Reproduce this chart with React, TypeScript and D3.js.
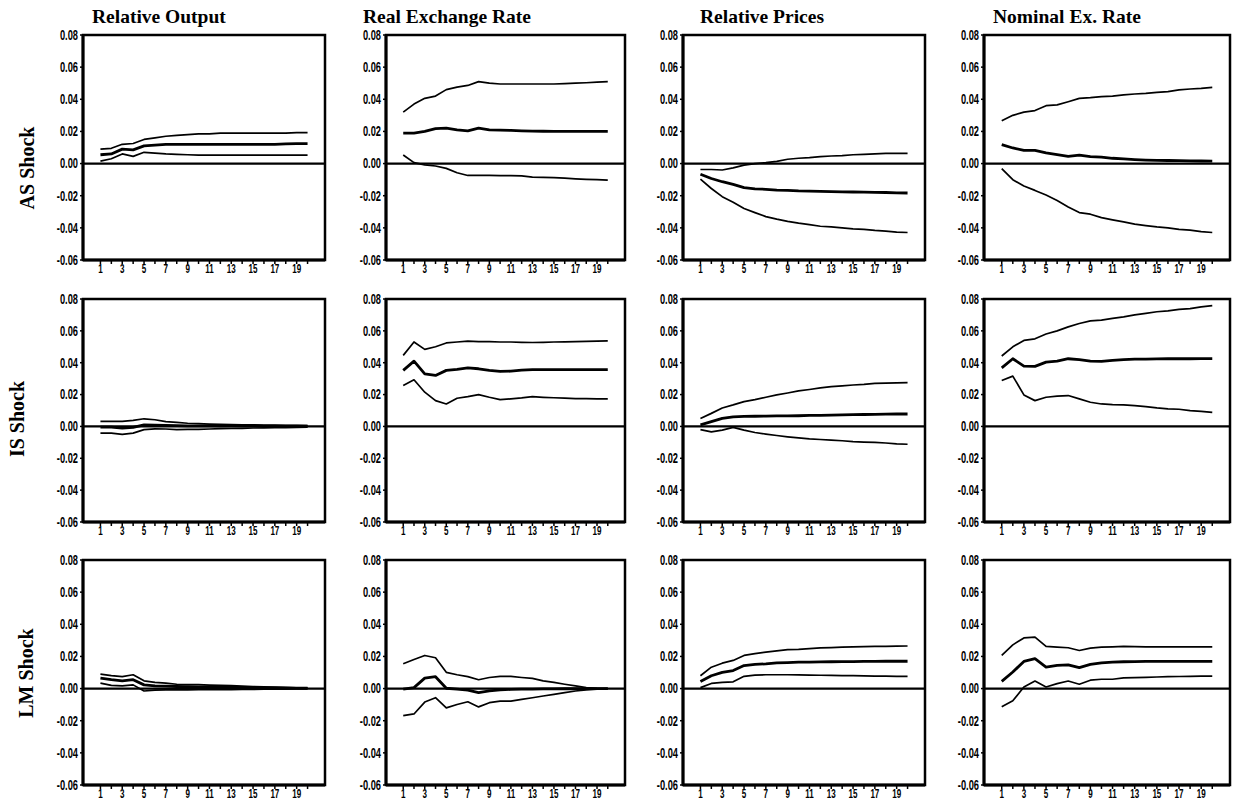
import React from 'react';
import * as d3 from 'd3';

const PERIODS = [1, 2, 3, 4, 5, 6, 7, 8, 9, 10, 11, 12, 13, 14, 15, 16, 17, 18, 19, 20];
const X_TICK_LABELS = [1, 3, 5, 7, 9, 11, 13, 15, 17, 19];
const Y_TICKS = [-0.06, -0.04, -0.02, 0, 0.02, 0.04, 0.06, 0.08];
const COLUMN_TITLES = ['Relative Output', 'Real Exchange Rate', 'Relative Prices', 'Nominal Ex. Rate'];
const ROW_LABELS = ['AS Shock', 'IS Shock', 'LM Shock'];

// AS shock
const asOutputHi = [0.009, 0.0095, 0.012, 0.0125, 0.015, 0.016, 0.017, 0.0175, 0.018, 0.0185, 0.0185, 0.019, 0.019, 0.019, 0.019, 0.019, 0.019, 0.019, 0.0192, 0.0192];
const asOutputMid = [0.0055, 0.006, 0.009, 0.0085, 0.011, 0.0115, 0.012, 0.012, 0.012, 0.012, 0.012, 0.012, 0.012, 0.012, 0.012, 0.012, 0.012, 0.0122, 0.0124, 0.0124];
const asOutputLo = [0.0015, 0.003, 0.006, 0.0045, 0.007, 0.0065, 0.006, 0.0057, 0.0055, 0.0053, 0.0053, 0.0052, 0.0052, 0.0052, 0.0052, 0.0052, 0.0052, 0.0052, 0.0052, 0.0052];

const asRerHi = [0.032, 0.037, 0.0406, 0.042, 0.046, 0.0476, 0.0486, 0.051, 0.05, 0.0495, 0.0495, 0.0495, 0.0495, 0.0495, 0.0495, 0.0498, 0.05, 0.0503, 0.0507, 0.051];
const asRerMid = [0.019, 0.019, 0.02, 0.0217, 0.022, 0.021, 0.0204, 0.022, 0.021, 0.0208, 0.0206, 0.0204, 0.0202, 0.0201, 0.02, 0.02, 0.02, 0.02, 0.02, 0.02];
const asRerLo = [0.0053, 0.0006, -0.0008, -0.0015, -0.003, -0.0057, -0.0074, -0.0074, -0.0074, -0.0075, -0.0075, -0.0077, -0.0084, -0.0086, -0.0088, -0.0091, -0.0095, -0.0098, -0.01, -0.0103];

const asPriceHi = [-0.0037, -0.0037, -0.004, -0.0027, -0.001, 0, 0.0006, 0.0014, 0.0027, 0.0033, 0.0037, 0.0043, 0.0047, 0.005, 0.0055, 0.0057, 0.006, 0.0063, 0.0064, 0.0064];
const asPriceMid = [-0.0066, -0.0093, -0.0113, -0.013, -0.015, -0.0157, -0.016, -0.0165, -0.0167, -0.017, -0.0171, -0.0173, -0.0174, -0.0176, -0.0177, -0.0178, -0.0179, -0.018, -0.0182, -0.0183];
const asPriceLo = [-0.0097, -0.0155, -0.0206, -0.024, -0.028, -0.0305, -0.033, -0.0346, -0.036, -0.0371, -0.038, -0.039, -0.0394, -0.04, -0.0406, -0.041, -0.0416, -0.042, -0.0427, -0.0429];

const asNerHi = [0.0266, 0.03, 0.032, 0.033, 0.036, 0.0365, 0.0385, 0.0406, 0.041, 0.0416, 0.042, 0.0427, 0.0433, 0.0437, 0.0443, 0.0448, 0.0458, 0.0464, 0.0468, 0.0474];
const asNerMid = [0.0118, 0.0097, 0.0082, 0.0082, 0.0066, 0.0056, 0.0045, 0.0052, 0.0043, 0.004, 0.0033, 0.0029, 0.0025, 0.0022, 0.002, 0.0019, 0.0018, 0.0017, 0.0016, 0.0015];
const asNerLo = [-0.0031, -0.01, -0.014, -0.0167, -0.0196, -0.023, -0.027, -0.0305, -0.0315, -0.0336, -0.035, -0.0363, -0.0377, -0.0386, -0.0394, -0.04, -0.041, -0.0414, -0.0423, -0.0429];

// IS shock
const isOutputHi = [0.0032, 0.0032, 0.0032, 0.0038, 0.0048, 0.0042, 0.003, 0.0025, 0.002, 0.0018, 0.0015, 0.0013, 0.0012, 0.001, 0.001, 0.0008, 0.0008, 0.0007, 0.0006, 0.0005];
const isOutputMid = [-0.0004, -0.0004, -0.001, -0.0006, 0.001, 0.0008, 0.0006, 0.0005, 0.0004, 0.0004, 0.0004, 0.0003, 0.0003, 0.0003, 0.0003, 0.0002, 0.0002, 0.0002, 0.0002, 0.0002];
const isOutputLo = [-0.0042, -0.0042, -0.005, -0.0042, -0.002, -0.0015, -0.0016, -0.002, -0.0019, -0.0018, -0.0016, -0.0014, -0.0013, -0.0012, -0.001, -0.0009, -0.0008, -0.0007, -0.0006, -0.0005];

const isRerHi = [0.0446, 0.053, 0.0484, 0.05, 0.0524, 0.053, 0.0535, 0.0533, 0.0532, 0.053, 0.053, 0.0528, 0.0527, 0.0528, 0.053, 0.0531, 0.0532, 0.0534, 0.0536, 0.0537];
const isRerMid = [0.0352, 0.041, 0.033, 0.032, 0.0352, 0.0358, 0.0368, 0.0362, 0.0352, 0.0345, 0.0347, 0.0354, 0.0356, 0.0356, 0.0356, 0.0356, 0.0356, 0.0356, 0.0356, 0.0356];
const isRerLo = [0.0257, 0.0293, 0.0215, 0.0162, 0.0141, 0.0177, 0.0187, 0.02, 0.0183, 0.0168, 0.0173, 0.0179, 0.0187, 0.0183, 0.018, 0.0178, 0.0175, 0.0174, 0.0173, 0.0173];

const isPriceHi = [0.005, 0.0082, 0.0116, 0.0135, 0.0156, 0.0168, 0.0183, 0.0198, 0.021, 0.0223, 0.0232, 0.0242, 0.025, 0.0255, 0.026, 0.0264, 0.027, 0.0272, 0.0274, 0.0275];
const isPriceMid = [0.001, 0.003, 0.005, 0.006, 0.0063, 0.0064, 0.0065, 0.0066, 0.0066, 0.0067, 0.0069, 0.007, 0.0071, 0.0072, 0.0074, 0.0075, 0.0076, 0.0077, 0.0078, 0.0078];
const isPriceLo = [-0.002, -0.0034, -0.0023, -0.0006, -0.0023, -0.0038, -0.0048, -0.0057, -0.0065, -0.0072, -0.0078, -0.0082, -0.0086, -0.009, -0.0095, -0.0098, -0.01, -0.0104, -0.011, -0.0112];

const isNerHi = [0.0442, 0.05, 0.054, 0.055, 0.058, 0.06, 0.0625, 0.0646, 0.0663, 0.0667, 0.0678, 0.0688, 0.07, 0.071, 0.072, 0.0726, 0.0735, 0.074, 0.075, 0.0758];
const isNerMid = [0.0368, 0.0425, 0.0379, 0.0377, 0.0404, 0.041, 0.0425, 0.0419, 0.041, 0.0408, 0.0415, 0.042, 0.0422, 0.0423, 0.0424, 0.0425, 0.0425, 0.0425, 0.0426, 0.0426];
const isNerLo = [0.0288, 0.0316, 0.0198, 0.0162, 0.0183, 0.019, 0.0194, 0.0173, 0.0152, 0.0141, 0.0137, 0.0135, 0.013, 0.0124, 0.0116, 0.011, 0.0108, 0.0099, 0.0095, 0.0088];

// LM shock
const lmOutputHi = [0.009, 0.008, 0.0074, 0.0086, 0.0048, 0.0038, 0.0034, 0.0027, 0.0025, 0.0024, 0.0022, 0.002, 0.0018, 0.0015, 0.0013, 0.001, 0.0008, 0.0006, 0.0005, 0.0004];
const lmOutputMid = [0.0065, 0.0055, 0.0048, 0.0055, 0.0023, 0.0017, 0.0015, 0.0013, 0.0012, 0.0011, 0.001, 0.0009, 0.0008, 0.0007, 0.0006, 0.0005, 0.0005, 0.0004, 0.0003, 0.0003];
const lmOutputLo = [0.0034, 0.002, 0.0017, 0.0023, -0.0015, -0.001, -0.0008, -0.0008, -0.0008, -0.0007, -0.0007, -0.0006, -0.0006, -0.0005, -0.0005, -0.0004, -0.0003, -0.0003, -0.0002, -0.0002];

const lmRerHi = [0.0154, 0.0181, 0.0206, 0.0192, 0.0101, 0.0086, 0.0074, 0.0055, 0.0069, 0.0076, 0.0076, 0.0069, 0.0063, 0.0048, 0.0038, 0.0027, 0.0017, 0.0006, 0.0002, 0];
const lmRerMid = [-0.0004, 0.0006, 0.0065, 0.0074, 0.0002, -0.0004, -0.001, -0.0025, -0.0015, -0.0008, -0.0005, -0.0004, -0.0003, -0.0002, -0.0002, -0.0001, -0.0001, 0, 0, 0];
const lmRerLo = [-0.0168, -0.0158, -0.0084, -0.0057, -0.012, -0.0099, -0.0082, -0.0114, -0.0088, -0.0078, -0.0078, -0.0067, -0.0057, -0.0046, -0.0036, -0.0025, -0.0015, -0.0008, -0.0004, 0];

const lmPriceHi = [0.008, 0.0133, 0.0158, 0.0175, 0.0206, 0.0217, 0.0227, 0.0234, 0.0242, 0.0244, 0.0248, 0.0253, 0.0255, 0.0258, 0.026, 0.0261, 0.0262, 0.0263, 0.0264, 0.0265];
const lmPriceMid = [0.0044, 0.008, 0.0101, 0.0112, 0.0143, 0.015, 0.0154, 0.016, 0.0162, 0.0164, 0.0165, 0.0166, 0.0167, 0.0168, 0.0168, 0.0169, 0.0169, 0.017, 0.017, 0.017];
const lmPriceLo = [0.0006, 0.0032, 0.0038, 0.0042, 0.0076, 0.0084, 0.0086, 0.0086, 0.0086, 0.0085, 0.0084, 0.0083, 0.0082, 0.0081, 0.008, 0.0079, 0.0078, 0.0077, 0.0076, 0.0076];

const lmNerHi = [0.0206, 0.0272, 0.0315, 0.032, 0.0262, 0.0258, 0.0254, 0.0237, 0.0252, 0.0258, 0.026, 0.0262, 0.0261, 0.026, 0.026, 0.026, 0.026, 0.026, 0.026, 0.026];
const lmNerMid = [0.0045, 0.0103, 0.0169, 0.0186, 0.0134, 0.0144, 0.0148, 0.013, 0.015, 0.016, 0.0165, 0.0167, 0.0168, 0.0169, 0.0169, 0.0169, 0.0169, 0.0169, 0.0169, 0.0169];
const lmNerLo = [-0.0113, -0.0076, 0.001, 0.0047, 0.001, 0.0031, 0.0047, 0.0027, 0.0052, 0.0058, 0.0058, 0.0066, 0.0068, 0.007, 0.0072, 0.0074, 0.0075, 0.0076, 0.0077, 0.0078];

const PANEL_SERIES = [
  [
    [asOutputHi, asOutputMid, asOutputLo],
    [asRerHi, asRerMid, asRerLo],
    [asPriceHi, asPriceMid, asPriceLo],
    [asNerHi, asNerMid, asNerLo],
  ],
  [
    [isOutputHi, isOutputMid, isOutputLo],
    [isRerHi, isRerMid, isRerLo],
    [isPriceHi, isPriceMid, isPriceLo],
    [isNerHi, isNerMid, isNerLo],
  ],
  [
    [lmOutputHi, lmOutputMid, lmOutputLo],
    [lmRerHi, lmRerMid, lmRerLo],
    [lmPriceHi, lmPriceMid, lmPriceLo],
    [lmNerHi, lmNerMid, lmNerLo],
  ],
];

// Layout
const COL_X: [number, number][] = [[83, 325], [386, 625], [683, 925], [984, 1230]];
const ROW_Y: [number, number][] = [[35, 260], [299, 522], [560, 785]];
const TITLE_X = [92, 363, 700, 993];
const TITLE_Y = 23;
const ROW_LABEL_POS: [number, number][] = [[34, 168], [24, 419], [33, 673]];

const TICK_FONT = "'Liberation Sans', Arial, sans-serif";
const SERIF = "'Liberation Serif', 'Times New Roman', serif";

function Panel({ r, c }: { r: number; c: number }) {
  const [x0, x1] = COL_X[c];
  const [y0, y1] = ROW_Y[r];
  const x = d3.scaleLinear().domain([-0.6, 21.6]).range([x0, x1]);
  const y = d3.scaleLinear().domain([-0.06, 0.08]).range([y1, y0]);
  const line = d3
    .line<number>()
    .x((_, i) => x(PERIODS[i]))
    .y((d) => y(d));
  const series = PANEL_SERIES[r][c];
  return (
    <g>
      {series.map((s, i) => (
        <path
          key={i}
          d={line(s) || ''}
          fill="none"
          stroke="#000"
          strokeWidth={i === 1 ? 2.8 : 1.7}
          strokeLinejoin="round"
        />
      ))}
      <line x1={x0} x2={x1} y1={y(0)} y2={y(0)} stroke="#000" strokeWidth={2.2} />
      <rect x={x0} y={y0} width={x1 - x0} height={y1 - y0} fill="none" stroke="#000" strokeWidth={2.5} />
      <line x1={x0} x2={x0} y1={y0} y2={y1} stroke="#000" strokeWidth={3} />
      <line x1={x0} x2={x1} y1={y1} y2={y1} stroke="#000" strokeWidth={3} />
      {Y_TICKS.map((t) => (
        <g key={t}>
          <line x1={x0 - 3} x2={x0} y1={y(t)} y2={y(t)} stroke="#000" strokeWidth={1.5} />
          <text
            transform={`translate(${x0 - 5},${y(t)}) scale(0.62,1)`}
            textAnchor="end"
            dominantBaseline="central"
            fontFamily={TICK_FONT}
            fontWeight="bold"
            fontSize={15}
          >
            {t.toFixed(2)}
          </text>
        </g>
      ))}
      {PERIODS.map((p) => (
        <line key={p} x1={x(p)} x2={x(p)} y1={y1} y2={y1 + 4} stroke="#000" strokeWidth={1.5} />
      ))}
      {X_TICK_LABELS.map((p) => (
        <text
          key={p}
          transform={`translate(${x(p)},${y1 + 13}) scale(0.62,1)`}
          textAnchor="middle"
          fontFamily={TICK_FONT}
          fontWeight="bold"
          fontSize={13}
        >
          {p}
        </text>
      ))}
    </g>
  );
}

export default function App() {
  return (
    <svg
      width={1235}
      height={803}
      style={{ position: 'absolute', left: 0, top: 0, background: '#fff' }}
    >
      <rect x={0} y={0} width={1235} height={803} fill="#fff" />
      {COLUMN_TITLES.map((t, c) => (
        <text key={t} x={TITLE_X[c]} y={TITLE_Y} fontFamily={SERIF} fontWeight="bold" fontSize={19.5}>
          {t}
        </text>
      ))}
      {ROW_LABELS.map((t, r) => (
        <text
          key={t}
          transform={`translate(${ROW_LABEL_POS[r][0]},${ROW_LABEL_POS[r][1]}) rotate(-90)`}
          textAnchor="middle"
          fontFamily={SERIF}
          fontWeight="bold"
          fontSize={20}
        >
          {t}
        </text>
      ))}
      {ROW_LABELS.map((_, r) => COLUMN_TITLES.map((__, c) => <Panel key={`${r}-${c}`} r={r} c={c} />))}
    </svg>
  );
}
